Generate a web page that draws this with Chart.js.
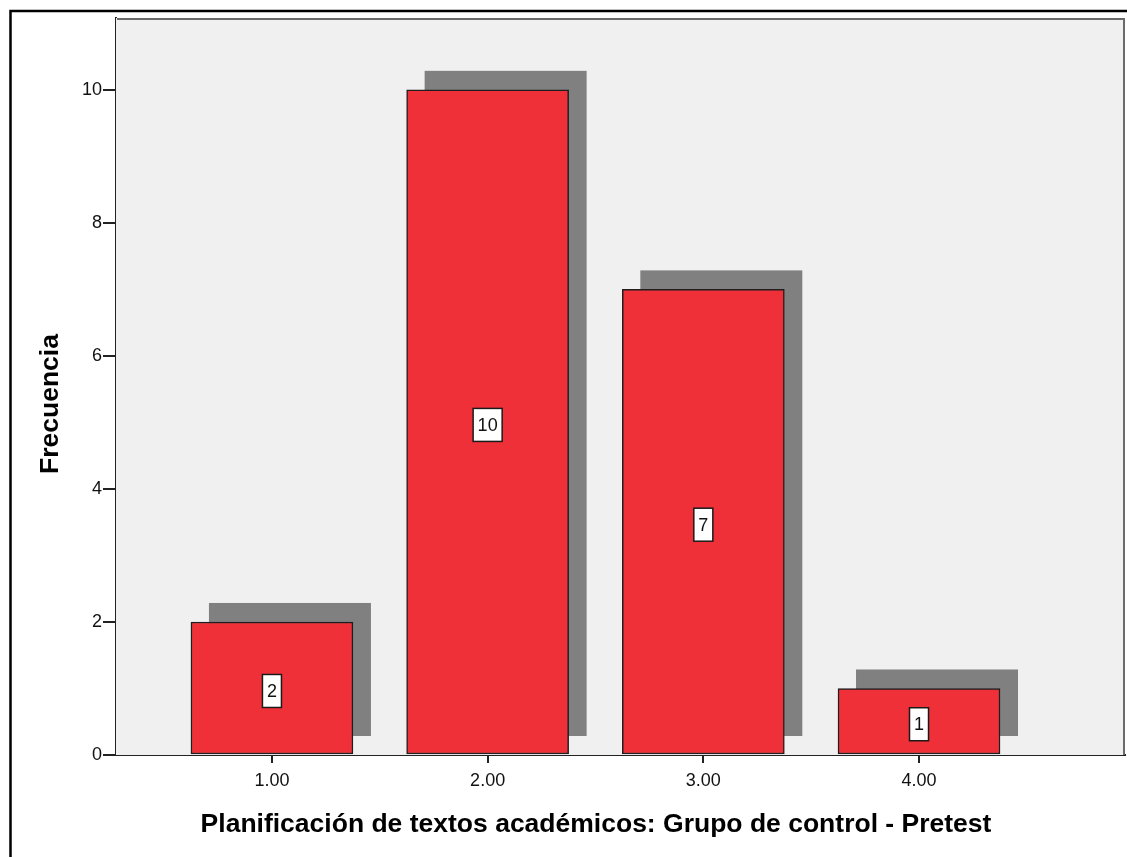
<!DOCTYPE html>
<html>
<head>
<meta charset="utf-8">
<script src="https://cdn.jsdelivr.net/npm/chart.js@4/dist/chart.umd.min.js"></script>
<style>
  html, body { margin: 0; padding: 0; background: #ffffff; }
  canvas { display: block; }
</style>
</head>
<body>
<canvas id="chart" width="1127" height="857"></canvas>
<script>
// Frecuencias por nivel
const categories = [1, 2, 3, 4];
const frequencies = [2, 10, 7, 1];
const yTicks = [0, 2, 4, 6, 8, 10];

const xTitle = "Planificación de textos académicos: Grupo de control - Pretest";
const yTitle = "Frecuencia";

const FONT = "'Liberation Sans', Arial, sans-serif";
const SHADOW = 18;

// gray plot background, top/right frame and bar shadows
const plotFrame = {
  id: "plotFrame",
  beforeDatasetsDraw(chart) {
    const { ctx, chartArea: a } = chart;
    ctx.save();
    ctx.fillStyle = "#f0f0f0";
    ctx.fillRect(a.left, a.top, a.right - a.left, a.bottom - a.top);
    ctx.strokeStyle = "#6a6a6a";
    ctx.lineWidth = 2;
    ctx.beginPath();
    ctx.moveTo(a.left + 1, a.top + 1);
    ctx.lineTo(a.right - 1, a.top + 1);
    ctx.lineTo(a.right - 1, a.bottom);
    ctx.stroke();

    const meta = chart.getDatasetMeta(0);
    ctx.fillStyle = "#808080";
    meta.data.forEach((bar) => {
      const p = bar.getProps(["x", "y", "base", "width"], true);
      ctx.fillRect(p.x - p.width / 2 + SHADOW, p.y - SHADOW - 1,
        p.width, p.base - p.y + 1);
    });
    ctx.restore();
  },
};

// value boxes in the middle of each bar
const valueBoxes = {
  id: "valueBoxes",
  afterDatasetsDraw(chart) {
    const { ctx } = chart;
    const yScale = chart.scales.y;
    const meta = chart.getDatasetMeta(0);
    ctx.save();
    ctx.font = `18px ${FONT}`;
    ctx.textAlign = "center";
    ctx.textBaseline = "middle";
    meta.data.forEach((bar, i) => {
      const v = frequencies[i];
      const cx = bar.x;
      const cy = yScale.getPixelForValue(v / 2) + 2.5;
      const txt = String(v);
      const w = ctx.measureText(txt).width + 9;
      const h = 33;
      ctx.fillStyle = "#ffffff";
      ctx.fillRect(cx - w / 2, cy - h / 2, w, h);
      ctx.strokeStyle = "#1a1a1a";
      ctx.lineWidth = 1.5;
      ctx.strokeRect(cx - w / 2, cy - h / 2, w, h);
      ctx.fillStyle = "#111111";
      ctx.fillText(txt, cx, cy + 1);
    });
    ctx.restore();
  },
};

// axis titles and the outer frame of the figure
const titlesAndFrame = {
  id: "titlesAndFrame",
  afterDraw(chart) {
    const { ctx } = chart;
    ctx.save();
    ctx.fillStyle = "#000000";
    ctx.font = `bold 26.5px ${FONT}`;
    ctx.textAlign = "center";
    ctx.textBaseline = "alphabetic";
    ctx.fillText(xTitle, 596, 832);

    ctx.translate(58, 404);
    ctx.rotate(-Math.PI / 2);
    ctx.fillText(yTitle, 0, 0);
    ctx.restore();

    ctx.save();
    ctx.strokeStyle = "#000000";
    ctx.lineWidth = 2.5;
    ctx.beginPath();
    ctx.moveTo(10.5, 857);
    ctx.lineTo(10.5, 11);
    ctx.lineTo(1127, 11);
    ctx.stroke();
    ctx.restore();
  },
};

new Chart(document.getElementById("chart"), {
  type: "bar",
  data: {
    datasets: [
      {
        data: categories.map((c, i) => ({ x: c, y: frequencies[i] })),
        backgroundColor: "#ef3039",
        borderColor: "#1e1e1e",
        borderWidth: 1.5,
        borderSkipped: false,
        barThickness: 162,
      },
    ],
  },
  options: {
    responsive: false,
    animation: false,
    devicePixelRatio: 1,
    layout: { padding: { top: 18, right: 2, left: 0, bottom: 0 } },
    plugins: {
      legend: { display: false },
      tooltip: { enabled: false },
    },
    scales: {
      x: {
        type: "linear",
        offset: false,
        min: 0.277,
        max: 4.955,
        afterBuildTicks: (scale) => {
          scale.ticks = categories.map((v) => ({ value: v }));
        },
        afterFit: (scale) => {
          scale.height = 102;
        },
        grid: {
          offset: false,
          drawOnChartArea: false,
          drawTicks: true,
          tickLength: 8,
          color: "#222222",
          lineWidth: 2,
        },
        border: { display: true, color: "#222222", width: 2 },
        ticks: {
          color: "#111111",
          padding: 7,
          maxRotation: 0,
          font: { family: FONT, size: 18 },
          callback: (v) => Number(v).toFixed(2),
        },
      },
      y: {
        min: 0,
        max: 11.08,
        afterBuildTicks: (scale) => {
          scale.ticks = yTicks.map((v) => ({ value: v }));
        },
        afterFit: (scale) => {
          scale.width = 116;
        },
        grid: {
          drawOnChartArea: false,
          drawTicks: true,
          tickLength: 13,
          color: "#222222",
          lineWidth: 2,
        },
        border: { display: true, color: "#222222", width: 2 },
        ticks: {
          color: "#111111",
          padding: 1,
          font: { family: FONT, size: 18 },
        },
      },
    },
  },
  plugins: [plotFrame, valueBoxes, titlesAndFrame],
});
</script>
</body>
</html>
